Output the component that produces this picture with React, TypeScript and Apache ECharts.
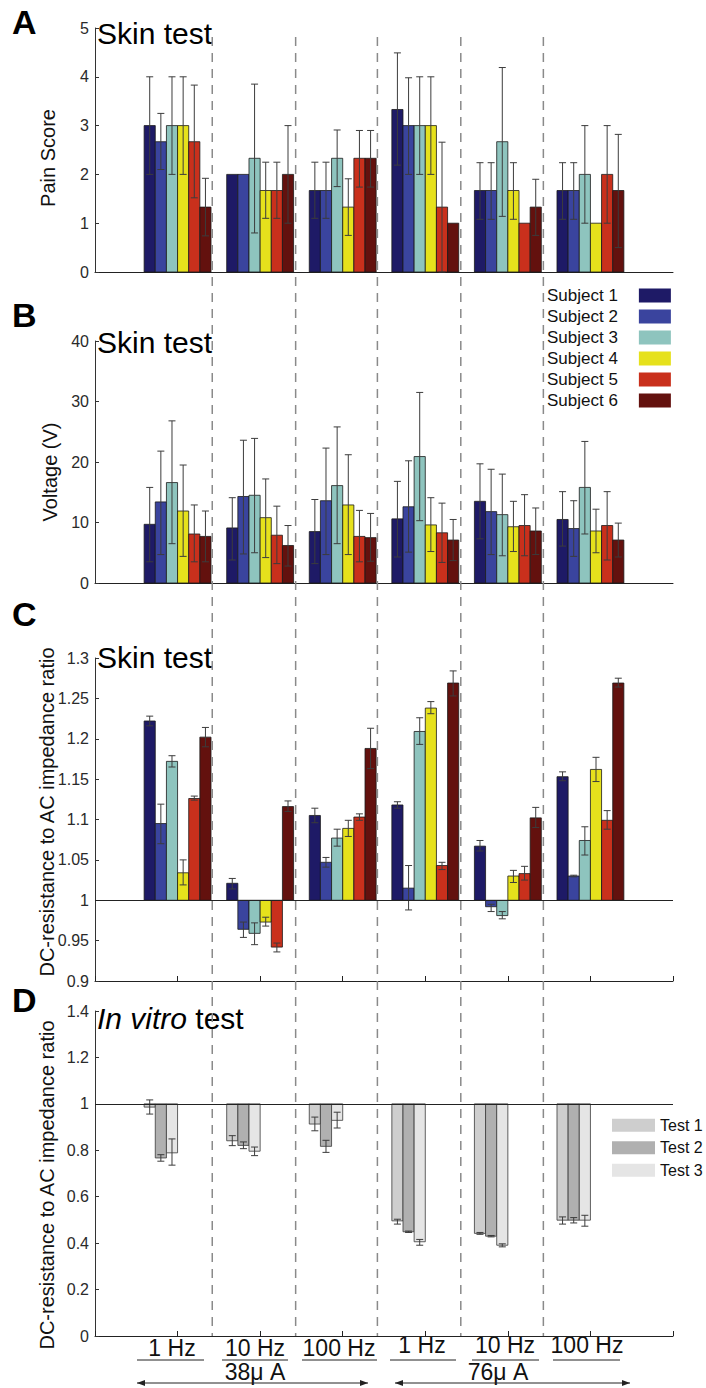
import React, { useEffect, useRef } from 'react';
import * as echarts from 'echarts';

// ---------- data ----------
const groups = [1, 2, 3, 4, 5, 6];
const subjectNames = ['Subject 1', 'Subject 2', 'Subject 3', 'Subject 4', 'Subject 5', 'Subject 6'];
const subjectColors = ['#1e1a66', '#3a449e', '#8ec4be', '#e6e11c', '#c9301c', '#63110e'];
const testNames = ['Test 1', 'Test 2', 'Test 3'];
const testColors = ['#cecece', '#b0b0b0', '#e5e5e5'];

// Panel A: pain score (per subject, across the 6 conditions)
const painMean = [
  [3.0, 2.0, 1.67, 3.33, 1.67, 1.67],
  [2.67, 2.0, 1.67, 3.0, 1.67, 1.67],
  [3.0, 2.33, 2.33, 3.0, 2.67, 2.0],
  [3.0, 1.67, 1.33, 3.0, 1.67, 1.0],
  [2.67, 1.67, 2.33, 1.33, 1.0, 2.0],
  [1.33, 2.0, 2.33, 1.0, 1.33, 1.67],
];
const painLow = [
  [2.0, 2.0, 1.1, 2.19, 1.08, 1.08],
  [2.1, 2.0, 1.1, 2.0, 1.08, 1.08],
  [2.0, 0.8, 1.75, 2.0, 1.14, 1.0],
  [2.0, 1.1, 0.75, 2.0, 1.08, 1.0],
  [1.52, 1.1, 1.74, 0.0, 1.0, 1.0],
  [0.74, 1.0, 1.74, 1.0, 0.75, 0.5],
];
const painHigh = [
  [4.0, 2.0, 2.25, 4.49, 2.24, 2.24],
  [3.25, 2.0, 2.25, 3.98, 2.24, 2.24],
  [4.0, 3.85, 2.91, 4.0, 4.19, 3.0],
  [4.0, 2.25, 1.91, 4.0, 2.24, 1.0],
  [3.83, 2.25, 2.9, 2.66, 1.0, 3.0],
  [1.92, 3.0, 2.9, 1.0, 1.9, 2.82],
];

// Panel B: voltage (V)
const voltMean = [
  [9.7, 9.1, 8.5, 10.6, 13.5, 10.5],
  [13.4, 14.3, 13.6, 12.6, 11.8, 9.0],
  [16.6, 14.5, 16.1, 20.9, 11.3, 15.8],
  [11.9, 10.8, 12.9, 9.6, 9.3, 8.6],
  [8.1, 7.9, 7.7, 8.3, 9.5, 9.5],
  [7.7, 6.2, 7.5, 7.1, 8.6, 7.1],
];
const voltLow = [
  [3.5, 3.8, 3.2, 4.3, 7.3, 6.1],
  [4.7, 4.8, 4.7, 5.1, 4.7, 4.4],
  [6.5, 5.0, 6.5, 10.3, 4.5, 8.1],
  [4.4, 4.2, 4.7, 5.2, 5.2, 5.0],
  [3.5, 3.2, 3.5, 3.4, 4.5, 3.8],
  [3.5, 2.8, 3.6, 3.7, 4.7, 4.3],
];
const voltHigh = [
  [15.8, 14.1, 13.8, 16.8, 19.7, 15.1],
  [21.8, 23.6, 22.3, 20.2, 18.8, 13.6],
  [26.8, 23.9, 25.8, 31.5, 18.0, 23.4],
  [19.5, 17.2, 21.2, 14.1, 13.5, 12.2],
  [12.9, 12.7, 12.0, 13.2, 14.6, 15.1],
  [11.9, 9.5, 11.5, 10.5, 12.4, 9.9],
];

// Panel C: skin DC/AC ratio
const skinMean = [
  [1.222, 1.021, 1.105, 1.118, 1.067, 1.153],
  [1.095, 0.964, 1.047, 1.015, 0.992, 1.03],
  [1.172, 0.959, 1.077, 1.209, 0.981, 1.074],
  [1.034, 0.973, 1.089, 1.238, 1.03, 1.162],
  [1.126, 0.942, 1.103, 1.043, 1.033, 1.099],
  [1.202, 1.116, 1.188, 1.269, 1.102, 1.269],
];
const skinLow = [
  [1.216, 1.014, 1.096, 1.114, 1.061, 1.148],
  [1.07, 0.954, 1.041, 0.988, 0.986, 1.029],
  [1.165, 0.945, 1.067, 1.193, 0.977, 1.056],
  [1.019, 0.968, 1.079, 1.231, 1.022, 1.147],
  [1.124, 0.936, 1.099, 1.038, 1.025, 1.088],
  [1.19, 1.11, 1.163, 1.253, 1.09, 1.264],
];
const skinHigh = [
  [1.228, 1.027, 1.114, 1.122, 1.074, 1.159],
  [1.119, 0.973, 1.053, 1.043, 0.995, 1.031],
  [1.179, 0.972, 1.088, 1.226, 0.986, 1.091],
  [1.05, 0.979, 1.099, 1.246, 1.037, 1.177],
  [1.129, 0.947, 1.107, 1.047, 1.042, 1.111],
  [1.214, 1.123, 1.213, 1.284, 1.115, 1.275],
];

// Panel D: in vitro DC/AC ratio
const vitroMean = [
  [0.986, 0.841, 0.913, 0.496, 0.442, 0.499],
  [0.767, 0.821, 0.817, 0.449, 0.43, 0.499],
  [0.789, 0.796, 0.929, 0.406, 0.391, 0.499],
];
const vitroLow = [
  [0.956, 0.82, 0.884, 0.482, 0.438, 0.482],
  [0.753, 0.807, 0.791, 0.446, 0.427, 0.487],
  [0.736, 0.777, 0.896, 0.391, 0.384, 0.473],
];
const vitroHigh = [
  [1.017, 0.863, 0.943, 0.503, 0.446, 0.513],
  [0.781, 0.836, 0.843, 0.452, 0.433, 0.51],
  [0.849, 0.814, 0.964, 0.416, 0.397, 0.52],
];

const separators = [1.42, 2.43, 3.42, 4.43, 5.43];
const freqLabels = ['1 Hz', '10 Hz', '100 Hz', '1 Hz', '10 Hz', '100 Hz'];
const currentLabels = ['38μ A', '76μ A'];

// ---------- helpers ----------
const FONT = '"Liberation Sans", Arial, sans-serif';
const SLOT = 0.135;

function items(mean: number[], lo: number[], hi: number[]) {
  return groups.map((g, i) => [g, mean[i], lo[i], hi[i]]);
}

function barRenderer(slot: number, base: number, color: string, border: string) {
  return (params: any, api: any) => {
    const g = api.value(0);
    const v = api.value(1);
    const lo = api.value(2);
    const hi = api.value(3);
    const cx = g + (slot - 2.5) * SLOT;
    const p0 = api.coord([cx - SLOT / 2, base]);
    const p1 = api.coord([cx + SLOT / 2, v]);
    const children: any[] = [
      {
        type: 'rect',
        shape: {
          x: p0[0],
          y: Math.min(p0[1], p1[1]),
          width: p1[0] - p0[0],
          height: Math.abs(p1[1] - p0[1]),
        },
        style: { fill: color, stroke: border, lineWidth: 0.8 },
      },
    ];
    if (hi - lo > 1e-6) {
      const a = api.coord([cx, lo]);
      const b = api.coord([cx, hi]);
      const cap = 3.5;
      const st = { stroke: '#3c3c3c', lineWidth: 1 };
      children.push({ type: 'line', shape: { x1: a[0], y1: a[1], x2: b[0], y2: b[1] }, style: st });
      children.push({ type: 'line', shape: { x1: a[0] - cap, y1: a[1], x2: a[0] + cap, y2: a[1] }, style: st });
      children.push({ type: 'line', shape: { x1: b[0] - cap, y1: b[1], x2: b[0] + cap, y2: b[1] }, style: st });
    }
    return { type: 'group', children };
  };
}

function panelSeries(
  idx: number,
  names: string[],
  colors: string[],
  mean: number[][],
  lo: number[][],
  hi: number[][],
  base: number,
  border: string,
  baseline: boolean
) {
  return names.map((name, s) => {
    const ser: any = {
      type: 'custom',
      name,
      xAxisIndex: idx,
      yAxisIndex: idx,
      itemStyle: { color: colors[s] },
      encode: { x: 0, y: 1 },
      data: items(mean[s], lo[s], hi[s]),
      renderItem: barRenderer(s, base, colors[s], border),
      z: 2,
    };
    if (baseline && s === 0) {
      ser.markLine = {
        silent: true,
        symbol: ['none', 'none'],
        label: { show: false },
        lineStyle: { color: '#222', type: 'solid', width: 1 },
        data: [{ yAxis: 1 }],
      };
    }
    return ser;
  });
}

const gridTops = [28, 341, 658, 1011];
const gridHeights = [244, 242, 323, 325];
const yRanges = [
  [0, 5, 1],
  [0, 40, 10],
  [0.9, 1.3, 0.05],
  [0, 1.4, 0.2],
];

export default function App() {
  const ref = useRef<HTMLDivElement>(null);

  useEffect(() => {
    if (!ref.current) return;
    const chart = echarts.init(ref.current, undefined, { renderer: 'svg' });

    const grid = gridTops.map((t, i) => ({ left: 95, right: 33, top: t, height: gridHeights[i] }));
    const xAxis = gridTops.map((_, i) => ({
      type: 'value',
      gridIndex: i,
      min: 0,
      max: 7,
      interval: 1,
      axisLabel: { show: false },
      splitLine: { show: false },
      axisLine: { show: true, onZero: false, lineStyle: { color: '#222', width: 1 } },
      axisTick: { show: i >= 2, inside: true, length: 5, lineStyle: { color: '#222' } },
    }));
    const yAxis = yRanges.map((r, i) => ({
      type: 'value',
      gridIndex: i,
      min: r[0],
      max: r[1],
      interval: r[2],
      splitLine: { show: false },
      axisLine: { show: true, lineStyle: { color: '#333', width: 1 } },
      axisTick: { show: true, inside: true, length: 4, lineStyle: { color: '#333' } },
      axisLabel: { fontSize: 16, color: '#2a2a2a', fontFamily: FONT, margin: 6 },
    }));

    const series = [
      ...panelSeries(0, subjectNames, subjectColors, painMean, painLow, painHigh, 0, '#1a1a1a', false),
      ...panelSeries(1, subjectNames, subjectColors, voltMean, voltLow, voltHigh, 0, '#1a1a1a', false),
      ...panelSeries(2, subjectNames, subjectColors, skinMean, skinLow, skinHigh, 1, '#1a1a1a', true),
      ...panelSeries(3, testNames, testColors, vitroMean, vitroLow, vitroHigh, 1, '#3a3a3a', true),
    ];

    chart.setOption({
      animation: false,
      backgroundColor: '#ffffff',
      grid,
      xAxis,
      yAxis,
      legend: [
        {
          data: subjectNames,
          orient: 'vertical',
          left: 542,
          top: 280,
          align: 'right',
          icon: 'rect',
          itemWidth: 32,
          itemHeight: 14,
          itemGap: 0,
          itemStyle: { borderWidth: 0 },
          textStyle: { fontSize: 17, fontFamily: FONT, color: '#111', lineHeight: 21, padding: [0, 16, 0, 0] },
          selectedMode: false,
        },
        {
          data: testNames,
          orient: 'vertical',
          left: 607,
          top: 1109,
          icon: 'rect',
          itemWidth: 43,
          itemHeight: 13,
          itemGap: 0,
          itemStyle: { borderWidth: 0 },
          textStyle: { fontSize: 16, fontFamily: FONT, color: '#111', lineHeight: 22.5 },
          selectedMode: false,
        },
      ],
      series,
    });

    const sepX = separators.map((s) => chart.convertToPixel({ xAxisIndex: 0 } as any, s) as number);

    const letter = (t: string, y: number) => ({
      type: 'text',
      x: 12,
      y,
      style: { text: t, fontSize: 34, fontWeight: 'bold', fontFamily: FONT, fill: '#000', align: 'left', verticalAlign: 'middle' },
    });
    const title = (t: string, y: number) => ({
      type: 'text',
      x: 97,
      y,
      style: { text: t, fontSize: 30, fontFamily: FONT, fill: '#000', align: 'left', verticalAlign: 'middle' },
    });
    const yTitle = (t: string, x: number, y: number) => ({
      type: 'text',
      x,
      y,
      rotation: Math.PI / 2,
      style: { text: t, fontSize: 20, fontFamily: FONT, fill: '#111', align: 'center', verticalAlign: 'middle' },
    });

    const freqX = [172, 255, 339, 422, 505, 587];
    const underline = [
      [137, 204],
      [222, 288],
      [302, 377],
      [390, 456],
      [472, 539],
      [553, 620],
    ];
    const arrowSpans = [
      [137, 368],
      [395, 630],
    ];
    const currentX = [255, 498];

    const elements: any[] = [
      letter('A', 22),
      letter('B', 315),
      letter('C', 614),
      letter('D', 1000),
      title('Skin test', 33),
      title('Skin test', 342),
      title('Skin test', 657),
      {
        type: 'text',
        x: 97,
        y: 1018,
        style: {
          text: '{i|In vitro} test',
          fontSize: 30,
          fontFamily: FONT,
          fill: '#000',
          align: 'left',
          verticalAlign: 'middle',
          rich: { i: { fontStyle: 'italic', fontSize: 30, fontFamily: FONT, fill: '#000' } },
        },
      },
      yTitle('Pain Score', 48, 158),
      yTitle('Voltage (V)', 50, 472),
      yTitle('DC-resistance to AC impedance ratio', 47, 812),
      yTitle('DC-resistance to AC impedance ratio', 47, 1185),
    ];

    sepX.forEach((x) => {
      elements.push({
        type: 'line',
        z: 100,
        shape: { x1: x, y1: 37, x2: x, y2: 1336 },
        style: { stroke: '#8a8a8a', lineWidth: 1.5, lineDash: [9, 7] },
      });
    });

    freqLabels.forEach((t, i) => {
      elements.push({
        type: 'text',
        x: freqX[i],
        y: i < 3 ? 1348 : 1345,
        style: { text: t, fontSize: 23, fontFamily: FONT, fill: '#111', align: 'center', verticalAlign: 'middle' },
      });
      elements.push({
        type: 'line',
        shape: { x1: underline[i][0], y1: 1360, x2: underline[i][1], y2: 1360 },
        style: { stroke: '#222', lineWidth: 1 },
      });
    });

    currentLabels.forEach((t, i) => {
      elements.push({
        type: 'text',
        x: currentX[i],
        y: 1372,
        style: { text: t, fontSize: 23, fontFamily: FONT, fill: '#111', align: 'center', verticalAlign: 'middle' },
      });
      const [a, b] = arrowSpans[i];
      const y = 1383;
      elements.push({ type: 'line', shape: { x1: a, y1: y, x2: b, y2: y }, style: { stroke: '#222', lineWidth: 1 } });
      elements.push({
        type: 'polygon',
        shape: { points: [[a, y], [a + 8, y - 3], [a + 8, y + 3]] },
        style: { fill: '#222' },
      });
      elements.push({
        type: 'polygon',
        shape: { points: [[b, y], [b - 8, y - 3], [b - 8, y + 3]] },
        style: { fill: '#222' },
      });
    });

    chart.setOption({ graphic: { elements } });

    return () => {
      chart.dispose();
    };
  }, []);

  return (
    <div
      ref={ref}
      style={{ position: 'absolute', left: 0, top: 0, width: 706, height: 1388, background: '#fff' }}
    />
  );
}
